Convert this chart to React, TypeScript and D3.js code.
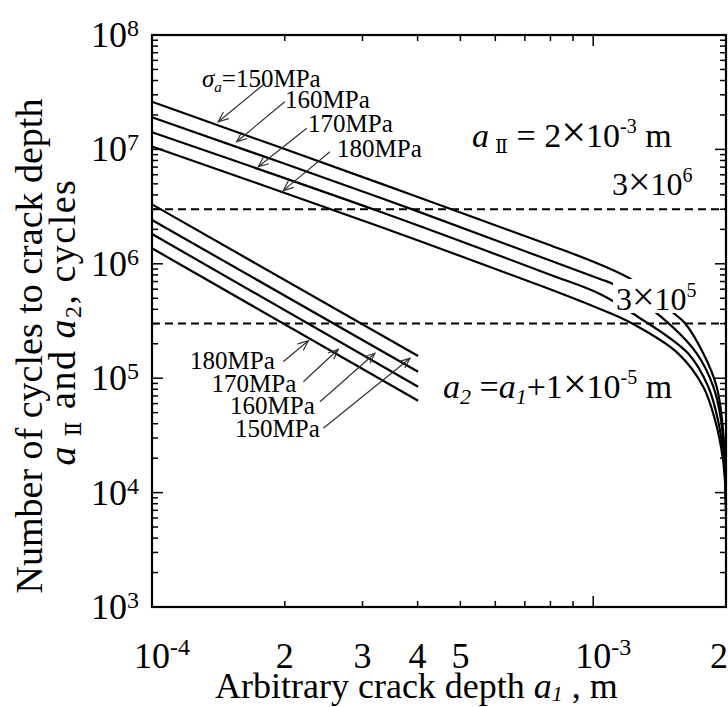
import React from 'react';
import * as d3 from 'd3';

// ---------- data ----------
const stressLabels = ['150MPa', '160MPa', '170MPa', '180MPa'];

// Cycles to reach a_II = 2e-3 m, [a1 (m), N (cycles)]
const upper150: [number, number][] = [
  [1.0e-4, 2.61e7], [3.29e-4, 5.05e6], [7.85e-4, 1.49e6], [1.036e-3, 9.86e5],
  [1.244e-3, 6.98e5], [1.54e-3, 3.57e5], [1.615e-3, 3.02e5], [1.776e-3, 1.65e5],
  [1.905e-3, 8.43e4], [1.959e-3, 4.31e4], [1.989e-3, 1.93e4], [2.0e-3, 6.4e3],
];
const upper160: [number, number][] = [
  [1.0e-4, 1.91e7], [3.29e-4, 3.78e6], [7.85e-4, 1.095e6], [1.036e-3, 7.37e5],
  [1.121e-3, 6.53e5], [1.417e-3, 3.5e5], [1.716e-3, 1.65e5], [1.872e-3, 8.43e4],
  [1.949e-3, 4.31e4], [1.984e-3, 1.93e4], [2.0e-3, 7.0e3],
];
const upper170: [number, number][] = [
  [1.0e-4, 1.41e7], [3.29e-4, 2.85e6], [7.85e-4, 8.23e5], [1.036e-3, 5.45e5],
  [1.255e-3, 3.5e5], [1.64e-3, 1.65e5], [1.823e-3, 8.43e4], [1.918e-3, 4.31e4],
  [1.979e-3, 1.93e4], [2.0e-3, 7.8e3],
];
const upper180: [number, number][] = [
  [1.0e-4, 1.06e7], [3.29e-4, 2.11e6], [7.85e-4, 6.15e5], [1.036e-3, 4.03e5],
  [1.223e-3, 3.02e5], [1.557e-3, 1.65e5], [1.776e-3, 8.43e4], [1.889e-3, 4.31e4],
  [1.969e-3, 1.93e4], [2.0e-3, 8.6e3],
];

// Cycles to reach a2 = a1 + 1e-5 m
const lower150: [number, number][] = [[1.0e-4, 3.31e6], [4.01e-4, 1.563e5]];
const lower160: [number, number][] = [[1.0e-4, 2.415e6], [4.01e-4, 1.14e5]];
const lower170: [number, number][] = [[1.0e-4, 1.822e6], [4.01e-4, 8.43e4]];
const lower180: [number, number][] = [[1.0e-4, 1.366e6], [4.01e-4, 6.36e4]];

const upperSeries = [upper150, upper160, upper170, upper180];
const lowerSeries = [lower150, lower160, lower170, lower180];

const referenceLevels = [3e6, 3e5];
const yDecades = [3, 4, 5, 6, 7, 8];
const xTickLabels = [
  { v: 1e-4, base: '10', sup: '-4' },
  { v: 2e-4, base: '2', sup: '' },
  { v: 3e-4, base: '3', sup: '' },
  { v: 4e-4, base: '4', sup: '' },
  { v: 5e-4, base: '5', sup: '' },
  { v: 1e-3, base: '10', sup: '-3' },
  { v: 2e-3, base: '2', sup: '' },
];

// arrows: [tail (a, N), tip (a, N)]
const upperArrows: [number, number][][] = [
  [[1.804e-4, 3.78e7], [1.413e-4, 1.746e7]],
  [[2.0e-4, 2.61e7], [1.556e-4, 1.168e7]],
  [[2.242e-4, 1.529e7], [1.741e-4, 7.06e6]],
  [[2.531e-4, 9.55e6], [1.984e-4, 4.36e6]],
];
const lowerArrows: [number, number][][] = [
  [[2.445e-4, 3.65e4], [3.845e-4, 1.492e5]],
  [[2.403e-4, 6.23e4], [3.2e-4, 1.651e5]],
  [[2.203e-4, 9.32e4], [2.644e-4, 1.789e5]],
  [[1.984e-4, 1.394e5], [2.261e-4, 2.127e5]],
];

// ---------- layout ----------
const W = 728;
const H = 707;
const L = 152, R = 726, T = 35, B = 607;
const FONT = '"Liberation Serif", "Times New Roman", Times, serif';
const NUMERAL_FONT = '"DejaVu Serif", "Liberation Serif", serif';

const xs = d3.scaleLog().domain([1e-4, 2e-3]).range([L, R]);
const ys = d3.scaleLog().domain([1e3, 1e8]).range([B, T]);

const lineGen = d3
  .line<[number, number]>()
  .x((d) => xs(d[0]))
  .y((d) => ys(d[1]))
  .curve(d3.curveCatmullRom.alpha(0.5));

function Arrow({ from, to }: { from: [number, number]; to: [number, number] }) {
  const x1 = xs(from[0]), y1 = ys(from[1]);
  const x2 = xs(to[0]), y2 = ys(to[1]);
  const ang = Math.atan2(y2 - y1, x2 - x1);
  const len = 11, spread = 0.4;
  const p1 = [x2 - len * Math.cos(ang - spread), y2 - len * Math.sin(ang - spread)];
  const p2 = [x2 - len * Math.cos(ang + spread), y2 - len * Math.sin(ang + spread)];
  return (
    <g stroke="#333" strokeWidth={1.2} fill="none">
      <line x1={x1} y1={y1} x2={x2} y2={y2} />
      <polyline points={`${p1[0]},${p1[1]} ${x2},${y2} ${p2[0]},${p2[1]}`} />
    </g>
  );
}

export default function App() {
  const yMajor = yDecades.map((e) => Math.pow(10, e));
  const yMinor: number[] = [];
  for (let e = 3; e < 8; e++) for (let k = 2; k <= 9; k++) yMinor.push(k * Math.pow(10, e));
  const xMajor = [1e-4, 1e-3];
  const xMinor: number[] = [];
  for (let k = 2; k <= 9; k++) xMinor.push(k * 1e-4);

  const upperLabelPos = [
    { x: 285, y: 108 },
    { x: 308, y: 131.5 },
    { x: 337, y: 156.5 },
  ];
  const lowerLabelPos = [
    { x: 235, y: 436.5 },
    { x: 230, y: 413.5 },
    { x: 211.5, y: 391.5 },
    { x: 190, y: 368.5 },
  ];

  return (
    <svg
      width={W}
      height={H}
      style={{ position: 'absolute', left: 0, top: 0, background: '#fff' }}
      fontFamily={FONT}
    >
      <rect x={0} y={0} width={W} height={H} fill="#fff" />

      {referenceLevels.map((v, i) => (
        <line key={i} x1={L} x2={R} y1={ys(v)} y2={ys(v)} stroke="#000" strokeWidth={2} strokeDasharray="8,5" />
      ))}

      {upperSeries.map((s, i) => (
        <path key={'u' + i} d={lineGen(s) || ''} fill="none" stroke="#000" strokeWidth={2.2} />
      ))}
      {lowerSeries.map((s, i) => (
        <path key={'l' + i} d={lineGen(s) || ''} fill="none" stroke="#000" strokeWidth={2.2} />
      ))}

      <g stroke="#000" strokeWidth={1.5}>
        {yMajor.map((v, i) => (
          <g key={'ym' + i}>
            <line x1={L} x2={L + 11} y1={ys(v)} y2={ys(v)} />
            <line x1={R} x2={R - 11} y1={ys(v)} y2={ys(v)} />
          </g>
        ))}
        {yMinor.map((v, i) => (
          <g key={'yn' + i}>
            <line x1={L} x2={L + 6} y1={ys(v)} y2={ys(v)} />
            <line x1={R} x2={R - 6} y1={ys(v)} y2={ys(v)} />
          </g>
        ))}
        {xMajor.map((v, i) => (
          <g key={'xm' + i}>
            <line x1={xs(v)} x2={xs(v)} y1={B} y2={B - 11} />
            <line x1={xs(v)} x2={xs(v)} y1={T} y2={T + 11} />
          </g>
        ))}
        {xMinor.map((v, i) => (
          <g key={'xn' + i}>
            <line x1={xs(v)} x2={xs(v)} y1={B} y2={B - 6} />
            <line x1={xs(v)} x2={xs(v)} y1={T} y2={T + 6} />
          </g>
        ))}
      </g>

      <rect x={L} y={T} width={R - L} height={B - T} fill="none" stroke="#000" strokeWidth={2.2} />

      {yDecades.map((e) => (
        <text key={'yl' + e} x={139} y={ys(Math.pow(10, e)) + 12} textAnchor="end" fontSize={36} fill="#000">
          10
          <tspan dy={-11} fontSize={24}>{e}</tspan>
        </text>
      ))}

      {xTickLabels.map((t, i) =>
        t.sup ? (
          <text key={'xl' + i} x={xs(t.v) - 18} y={668} fontSize={36} fill="#000">
            {t.base}
            <tspan dy={-13} fontSize={24}>{t.sup}</tspan>
          </text>
        ) : (
          <text key={'xl' + i} x={Math.min(xs(t.v), W - 9)} y={668} textAnchor="middle" fontSize={36} fill="#000">
            {t.base}
          </text>
        )
      )}

      <text x={215} y={698} fontSize={36} fill="#000">
        Arbitrary crack depth <tspan fontStyle="italic">a</tspan>
        <tspan fontStyle="italic" fontSize={22} dy={3}>1</tspan>
        <tspan dy={-3}> , m</tspan>
      </text>
      <text transform="translate(42,346) rotate(-90)" textAnchor="middle" fontSize={38} fill="#000">
        Number of cycles to crack depth
      </text>
      <text transform="translate(75,322) rotate(-90)" textAnchor="middle" fontSize={38} letterSpacing={1.5} fill="#000">
        <tspan fontStyle="italic">a</tspan>
        <tspan fontSize={22} dy={6} fontFamily={NUMERAL_FONT}> Ⅱ</tspan>
        <tspan dy={-6}> and </tspan>
        <tspan fontStyle="italic">a</tspan>
        <tspan fontSize={24} dy={6}>2</tspan>
        <tspan dy={-6}>, cycles</tspan>
      </text>

      <text x={202} y={87} fontSize={25} fill="#000">
        <tspan fontStyle="italic">σ</tspan>
        <tspan fontStyle="italic" fontSize={15} dy={5}>a</tspan>
        <tspan dy={-5}>={stressLabels[0]}</tspan>
      </text>
      {upperLabelPos.map((p, i) => (
        <text key={'ul' + i} x={p.x} y={p.y} fontSize={25} fill="#000">{stressLabels[i + 1]}</text>
      ))}
      {upperArrows.map((a, i) => (
        <Arrow key={'ua' + i} from={a[0]} to={a[1]} />
      ))}

      {lowerLabelPos.map((p, i) => (
        <text key={'ll' + i} x={p.x} y={p.y} fontSize={25} fill="#000">{stressLabels[i]}</text>
      ))}
      {lowerArrows.map((a, i) => (
        <Arrow key={'la' + i} from={a[0]} to={a[1]} />
      ))}

      <text x={472} y={147} fontSize={34} fill="#000">
        <tspan fontStyle="italic">a</tspan>
        <tspan fontSize={19} dy={6} fontFamily={NUMERAL_FONT}> Ⅱ</tspan>
        <tspan dy={-6}> = 2</tspan>
        <tspan fontSize={44}>×</tspan>
        <tspan>10</tspan>
        <tspan fontSize={20} dy={-14}>-3</tspan>
        <tspan dy={14}> m</tspan>
      </text>
      <text x={612} y={195} fontSize={32} fill="#000">
        3<tspan fontSize={40}>×</tspan>10<tspan fontSize={20} dy={-13}>6</tspan>
      </text>
      <rect x={613} y={279} width={93} height={34} fill="#fff" />
      <text x={616} y={310} fontSize={32} fill="#000">
        3<tspan fontSize={40}>×</tspan>10<tspan fontSize={20} dy={-13}>5</tspan>
      </text>
      <text x={443} y={398} fontSize={34} fill="#000">
        <tspan fontStyle="italic">a</tspan>
        <tspan fontStyle="italic" fontSize={22} dy={6}>2</tspan>
        <tspan dy={-6}> =</tspan>
        <tspan fontStyle="italic">a</tspan>
        <tspan fontStyle="italic" fontSize={22} dy={6}>1</tspan>
        <tspan dy={-6}>+1</tspan>
        <tspan fontSize={42}>×</tspan>
        <tspan>10</tspan>
        <tspan fontSize={20} dy={-14}>-5</tspan>
        <tspan dy={14}> m</tspan>
      </text>
    </svg>
  );
}
